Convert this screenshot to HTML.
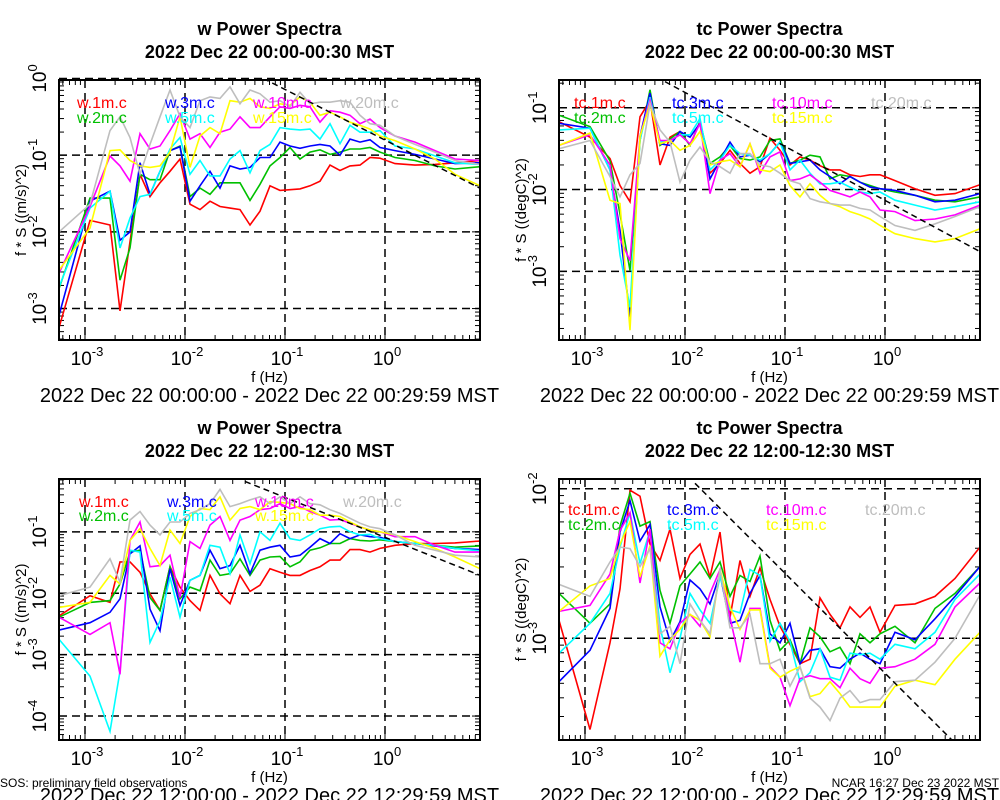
<!DOCTYPE html>
<html><head><meta charset="utf-8"><style>
html,body{margin:0;padding:0;background:#fff;}
svg{display:block;font-family:"Liberation Sans",sans-serif;}
</style></head><body>
<svg id="chart" width="1000" height="800" viewBox="0 0 1000 800" xmlns="http://www.w3.org/2000/svg"></svg>
<script>
// shared frequency grid (log10 Hz)
const logFreq = [-3.26,-2.95,-2.75,-2.65,-2.55,-2.45,-2.35,-2.25,-2.15,-2.05,-1.95,-1.85,-1.75,-1.65,-1.55,-1.45,-1.35,-1.25,-1.15,-1.05,-0.95,-0.85,-0.75,-0.65,-0.55,-0.45,-0.35,-0.25,-0.15,-0.05,0.1,0.3,0.5,0.7,0.95];
const seriesColors = ["#ff0000","#00c000","#0000ff","#00ffff","#ff00ff","#ffff00","#bebebe"];
const legendOrderW = ["w.1m.c","w.2m.c","w.3m.c","w.5m.c","w.10m.c","w.15m.c","w.20m.c"];
const legendOrderTC = ["tc.1m.c","tc.2m.c","tc.3m.c","tc.5m.c","tc.10m.c","tc.15m.c","tc.20m.c"];
const xTickExps = [-3,-2,-1,0];

// Panel 1: w 00:00 (log10 values)
const w00_1m = [-3.25,-1.85,-1.91,-3.03,-2.13,-1.25,-1.54,-1.36,-1.21,-1.05,-1.64,-1.71,-1.60,-1.67,-1.69,-1.71,-1.91,-1.73,-1.40,-1.46,-1.45,-1.44,-1.40,-1.34,-1.13,-1.20,-1.14,-1.13,-1.03,-1.04,-1.11,-1.13,-1.12,-1.10,-1.07];
const w00_2m = [-2.74,-1.56,-1.56,-2.63,-2.21,-1.25,-1.32,-1.32,-0.94,-0.88,-1.54,-1.43,-1.51,-1.36,-1.36,-1.36,-1.59,-1.38,-1.14,-1.03,-0.90,-1.05,-0.96,-0.93,-0.99,-0.96,-0.92,-0.92,-0.90,-0.96,-1.03,-1.07,-1.14,-1.18,-1.15];
const w00_3m = [-3.09,-1.60,-1.47,-2.11,-2.00,-1.10,-1.51,-1.21,-0.94,-0.89,-1.60,-1.40,-1.21,-1.43,-1.14,-1.18,-1.16,-1.03,-1.03,-0.83,-0.88,-0.91,-0.88,-0.86,-0.88,-1.00,-0.79,-0.83,-0.80,-0.90,-0.94,-0.99,-1.05,-1.11,-1.10];
const w00_5m = [-2.72,-1.69,-1.47,-2.21,-1.82,-1.54,-1.51,-1.21,-0.92,-0.77,-1.25,-1.07,-1.27,-1.27,-1.05,-0.94,-1.23,-0.94,-0.86,-0.64,-0.66,-0.67,-0.66,-0.79,-0.59,-0.85,-0.61,-0.70,-0.70,-0.68,-0.88,-0.92,-1.01,-1.10,-1.12];
const w00_10m = [-2.54,-1.67,-1.01,-1.14,-1.34,-0.72,-0.92,-0.88,-0.68,-0.46,-0.79,-0.72,-0.90,-0.70,-0.66,-0.50,-0.64,-0.64,-0.50,-0.37,-0.39,-0.35,-0.37,-0.57,-0.42,-0.44,-0.48,-0.59,-0.53,-0.64,-0.75,-0.83,-0.94,-1.05,-1.07];
const w00_15m = [-2.50,-1.95,-0.94,-0.93,-1.07,-1.14,-1.16,-1.14,-0.96,-0.50,-1.16,-0.75,-0.64,-0.72,-0.29,-0.31,-0.26,-0.37,-0.39,-0.33,-0.35,-0.24,-0.31,-0.48,-0.44,-0.50,-0.57,-0.61,-0.66,-0.75,-0.81,-0.92,-1.05,-1.25,-1.40];
const w00_20m = [-2.00,-1.64,-0.68,-0.50,-0.77,-1.25,-0.86,-0.50,-0.15,-0.50,-0.64,-0.29,-0.24,-0.26,-0.11,-0.33,-0.15,-0.20,-0.31,-0.29,-0.37,-0.18,-0.33,-0.31,-0.31,-0.29,-0.31,-0.48,-0.59,-0.61,-0.75,-0.86,-0.96,-1.07,-1.12];

// Panel 2: tc 00:00
const tc00_1m = [-1.17,-1.36,-1.62,-1.95,-2.15,-1.11,-0.91,-1.70,-1.36,-1.29,-1.46,-1.17,-1.80,-1.68,-1.52,-1.68,-1.80,-1.72,-1.37,-1.52,-1.70,-1.60,-1.64,-1.71,-1.76,-1.76,-1.82,-1.84,-1.82,-1.82,-1.89,-1.99,-2.07,-2.05,-1.94];
const tc00_2m = [-1.09,-1.23,-1.65,-2.30,-2.99,-1.40,-0.78,-1.46,-1.38,-1.29,-1.46,-1.17,-1.68,-1.60,-1.46,-1.62,-1.64,-1.60,-1.40,-1.38,-1.68,-1.64,-1.58,-1.60,-1.87,-1.82,-1.84,-1.91,-1.95,-1.99,-2.03,-2.07,-2.13,-2.15,-2.09];
const tc00_3m = [-1.19,-1.25,-1.76,-2.50,-3.56,-1.35,-0.82,-1.44,-1.46,-1.29,-1.36,-1.19,-1.87,-1.64,-1.42,-1.60,-1.58,-1.66,-1.56,-1.42,-1.68,-1.66,-1.64,-1.76,-1.84,-1.93,-1.84,-1.91,-1.97,-1.99,-2.01,-2.07,-2.15,-2.13,-2.05];
const tc00_5m = [-1.27,-1.25,-1.76,-2.80,-3.44,-1.40,-0.87,-1.42,-1.40,-1.33,-1.33,-1.13,-1.76,-1.64,-1.46,-1.56,-1.58,-1.64,-1.56,-1.42,-1.76,-1.64,-1.80,-1.93,-1.93,-1.91,-1.97,-2.03,-2.05,-2.03,-2.13,-2.19,-2.25,-2.21,-2.15];
const tc00_10m = [-1.46,-1.33,-1.70,-2.60,-2.87,-1.35,-0.91,-1.40,-1.40,-1.33,-1.44,-1.19,-2.05,-1.64,-1.56,-1.72,-1.44,-1.80,-1.60,-1.54,-1.89,-1.87,-1.82,-1.91,-2.01,-2.05,-2.09,-2.03,-2.09,-2.25,-2.27,-2.38,-2.36,-2.31,-2.19];
const tc00_15m = [-1.46,-1.31,-2.13,-2.17,-3.72,-1.35,-0.95,-1.44,-1.40,-1.52,-1.46,-1.29,-1.70,-1.66,-1.64,-1.72,-1.44,-1.76,-1.78,-1.70,-1.95,-2.09,-1.93,-2.07,-2.17,-2.21,-2.27,-2.31,-2.36,-2.44,-2.54,-2.60,-2.64,-2.60,-2.48];
const tc00_20m = [-1.50,-1.40,-1.84,-2.09,-1.82,-1.68,-0.95,-1.27,-1.42,-1.91,-1.64,-1.48,-1.66,-1.72,-1.80,-1.56,-1.56,-1.70,-1.72,-1.80,-1.89,-1.93,-2.11,-2.15,-2.17,-2.19,-2.19,-2.23,-2.25,-2.33,-2.44,-2.50,-2.42,-2.33,-2.21];

// Panel 3: w 12:00
const w12_1m = [-2.37,-2.04,-2.15,-1.49,-1.49,-1.66,-2.01,-2.28,-1.57,-1.90,-2.12,-2.28,-1.71,-2.01,-2.17,-1.71,-1.97,-1.87,-1.60,-1.66,-1.71,-1.71,-1.63,-1.57,-1.46,-1.46,-1.29,-1.29,-1.33,-1.27,-1.22,-1.19,-1.19,-1.18,-1.15];
const w12_2m = [-2.39,-2.15,-2.12,-1.85,-1.33,-1.30,-2.07,-2.28,-1.57,-2.09,-1.90,-1.96,-1.46,-1.71,-1.68,-1.44,-1.71,-1.46,-1.41,-1.40,-1.57,-1.49,-1.30,-1.26,-1.19,-1.19,-1.11,-1.14,-1.15,-1.13,-1.16,-1.19,-1.22,-1.25,-1.23];
const w12_3m = [-2.60,-2.48,-2.31,-2.09,-1.36,-1.23,-2.26,-2.61,-1.60,-2.20,-1.79,-1.71,-1.30,-1.60,-1.55,-1.22,-1.68,-1.30,-1.25,-1.22,-1.41,-1.38,-1.25,-1.11,-1.19,-1.03,-1.11,-1.05,-1.08,-1.09,-1.16,-1.19,-1.23,-1.27,-1.29];
const w12_5m = [-2.75,-3.35,-4.25,-3.27,-1.30,-1.33,-2.80,-2.45,-1.74,-2.39,-1.79,-1.71,-1.22,-1.25,-1.68,-1.05,-1.52,-1.00,-1.14,-0.86,-1.11,-1.14,-1.05,-0.95,-0.92,-0.91,-1.00,-1.05,-1.04,-1.11,-1.16,-1.19,-1.22,-1.27,-1.31];
const w12_10m = [-2.39,-2.67,-2.48,-3.32,-1.14,-0.84,-1.57,-1.55,-1.38,-2.07,-1.16,-1.27,-0.89,-0.75,-1.14,-0.81,-0.75,-0.64,-0.62,-0.54,-0.62,-0.59,-0.67,-0.73,-0.81,-0.80,-0.86,-0.92,-0.97,-1.00,-1.08,-1.08,-1.22,-1.33,-1.33];
const w12_15m = [-2.23,-2.15,-1.71,-1.85,-1.14,-0.95,-1.27,-1.55,-0.97,-1.19,-0.75,-0.62,-0.64,-0.43,-0.81,-0.62,-0.59,-0.64,-0.51,-0.52,-0.54,-0.62,-0.64,-0.73,-0.73,-0.75,-0.84,-0.92,-0.97,-1.00,-1.05,-1.16,-1.27,-1.41,-1.60];
const w12_20m = [-2.04,-1.90,-1.44,-1.82,-0.81,-0.67,-0.89,-1.05,-0.84,-0.84,-0.70,-0.64,-0.54,-0.31,-0.59,-0.54,-0.48,-0.43,-0.54,-0.43,-0.54,-0.43,-0.54,-0.56,-0.64,-0.70,-0.78,-0.86,-0.92,-0.95,-1.05,-1.22,-1.30,-1.38,-1.41];

// Panel 4: tc 12:00
const tc12_1m = [-2.88,-3.61,-3.03,-2.67,-2.01,-2.05,-2.37,-2.48,-2.27,-2.60,-2.44,-2.37,-2.59,-2.29,-2.86,-2.48,-2.72,-2.53,-2.74,-2.92,-3.04,-3.17,-3.14,-2.73,-2.84,-2.93,-2.79,-2.86,-2.79,-2.96,-2.78,-2.77,-2.72,-2.60,-2.39];
const tc12_2m = [-2.70,-2.90,-2.77,-2.25,-2.03,-2.25,-2.22,-2.68,-2.90,-2.65,-2.57,-2.49,-2.60,-2.49,-2.72,-2.58,-2.62,-2.45,-2.88,-3.08,-3.01,-3.17,-2.93,-2.99,-3.09,-3.06,-3.17,-2.97,-3.03,-2.97,-2.92,-3.03,-2.80,-2.70,-2.52];
const tc12_3m = [-3.29,-3.08,-2.80,-2.29,-2.08,-2.35,-2.24,-2.79,-3.02,-2.89,-2.61,-2.67,-2.77,-2.57,-2.90,-2.88,-2.70,-2.58,-2.97,-3.03,-2.90,-3.17,-3.08,-3.07,-3.19,-3.20,-3.14,-3.10,-3.14,-3.17,-2.96,-3.01,-2.87,-2.72,-2.52];
const tc12_5m = [-3.10,-2.90,-2.70,-2.39,-2.16,-2.50,-2.28,-2.92,-3.23,-3.00,-2.70,-2.81,-2.90,-2.59,-2.81,-2.83,-2.54,-2.58,-3.02,-2.90,-3.02,-3.29,-3.23,-3.07,-3.26,-3.28,-3.10,-3.11,-3.10,-3.14,-3.04,-3.07,-2.96,-2.74,-2.57];
const tc12_10m = [-2.82,-2.78,-2.57,-2.28,-2.16,-2.63,-2.27,-3.03,-3.07,-2.90,-2.84,-2.92,-2.70,-2.54,-2.86,-3.16,-2.80,-2.80,-3.19,-3.26,-3.45,-3.27,-3.25,-3.27,-3.27,-3.33,-3.20,-3.27,-3.30,-3.20,-3.19,-3.14,-3.04,-2.79,-2.63];
const tc12_15m = [-2.82,-2.65,-2.60,-2.37,-2.22,-2.59,-2.38,-3.12,-3.01,-2.94,-2.84,-2.88,-2.99,-2.54,-2.79,-2.94,-2.81,-2.81,-3.20,-3.26,-3.22,-3.19,-3.39,-3.37,-3.29,-3.37,-3.46,-3.46,-3.46,-3.46,-3.32,-3.28,-3.31,-3.14,-2.96];
const tc12_20m = [-2.64,-2.72,-2.49,-2.39,-2.40,-2.52,-2.40,-2.97,-2.92,-3.17,-2.77,-2.88,-2.97,-2.54,-2.93,-2.93,-2.84,-3.17,-3.17,-3.14,-3.32,-3.19,-3.40,-3.46,-3.55,-3.40,-3.35,-3.43,-3.41,-3.41,-3.29,-3.28,-3.16,-3.00,-2.71];

const NS="http://www.w3.org/2000/svg";
const svg=document.getElementById('chart');
function mk(tag,attrs,parent){const e=document.createElementNS(NS,tag);for(const k in attrs)e.setAttribute(k,attrs[k]);(parent||svg).appendChild(e);return e;}

const panels=[
 {id:'w-0000',l:59,r:480,t:80,b:340,yTop:-0.02,yBot:-3.41,yExps:[0,-1,-2,-3],ylabel:'f * S ((m/s)^2)',
  title1:'w Power Spectra',title2:'2022 Dec 22 00:00-00:30 MST',date:'2022 Dec 22 00:00:00 - 2022 Dec 22 00:29:59 MST',
  series:[w00_1m,w00_2m,w00_3m,w00_5m,w00_10m,w00_15m,w00_20m],names:legendOrderW,legX:[77,165,253,340],legY:[108,123],
  refA:-1.217,refB:0,refS:-0.66},
 {id:'tc-0000',l:559,r:980,t:80,b:340,yTop:-0.66,yBot:-3.84,yExps:[-1,-2,-3],ylabel:'f * S ((degC)^2)',
  title1:'tc Power Spectra',title2:'2022 Dec 22 00:00-00:30 MST',date:'2022 Dec 22 00:00:00 - 2022 Dec 22 00:29:59 MST',
  series:[tc00_1m,tc00_2m,tc00_3m,tc00_5m,tc00_10m,tc00_15m,tc00_20m],names:legendOrderTC,legX:[574,672,772,871],legY:[108,123],
  refA:-2.2,refB:-0.68,refS:-0.66},
 {id:'w-1200',l:59,r:480,t:479,b:740,yTop:-0.14,yBot:-4.39,yExps:[-1,-2,-3,-4],ylabel:'f * S ((m/s)^2)',
  title1:'w Power Spectra',title2:'2022 Dec 22 12:00-12:30 MST',date:'2022 Dec 22 12:00:00 - 2022 Dec 22 12:29:59 MST',
  series:[w12_1m,w12_2m,w12_3m,w12_5m,w12_10m,w12_15m,w12_20m],names:legendOrderW,legX:[79,167,255,343],legY:[507,521],
  refA:-1.4,refB:-0.18,refS:-0.65},
 {id:'tc-1200',l:559,r:980,t:479,b:740,yTop:-1.935,yBot:-3.68,yExps:[-2,-3],ylabel:'f * S ((degC)^2)',
  title1:'tc Power Spectra',title2:'2022 Dec 22 12:00-12:30 MST',date:'2022 Dec 22 12:00:00 - 2022 Dec 22 12:29:59 MST',
  series:[tc12_1m,tc12_2m,tc12_3m,tc12_5m,tc12_10m,tc12_15m,tc12_20m],names:legendOrderTC,legX:[568,667,766,865],legY:[515,530],
  refA:-1.9,refB:-1.964,refS:-0.668}
];
const xMin=-3.26,xMax=0.95;

panels.forEach(p=>{
 const g=mk('g',{});
 
 
 const X=v=>p.l+(v-xMin)/(xMax-xMin)*(p.r-p.l);
 const Y=v=>p.t+(p.yTop-v)/(p.yTop-p.yBot)*(p.b-p.t);
 const cx=(p.l+p.r)/2;
 let t=mk('text',{x:cx,y:p.t-45,'text-anchor':'middle','font-size':18,'font-weight':'bold'},g);t.textContent=p.title1;
 
 t=mk('text',{x:cx,y:p.t-22,'text-anchor':'middle','font-size':18,'font-weight':'bold'},g);t.textContent=p.title2;
 
 const cp=mk('clipPath',{id:'clip-'+p.id},g);mk('rect',{x:p.l,y:p.t,width:p.r-p.l,height:p.b-p.t},cp);
 xTickExps.forEach(e=>{const x=X(e);const ln=mk('line',{x1:x,x2:x,y1:p.t,y2:p.b,stroke:'#000','stroke-width':1.5,'stroke-dasharray':'8,5'},g);
  
  const tx=mk('text',{x:x+2,y:p.t+(p.b-p.t)+25,'text-anchor':'middle','font-size':19},g);tx.textContent='10';
  const ts=mk('tspan',{dy:-9,'font-size':13},tx);ts.textContent=String(e);
  });
 p.yExps.forEach(e=>{const y=Y(e);const ln=mk('line',{x1:p.l,x2:p.r,y1:y,y2:y,stroke:'#000','stroke-width':1.5,'stroke-dasharray':'8,5'},g);
  
  const tx=mk('text',{x:0,y:0,'text-anchor':'middle','font-size':19,transform:`translate(${p.l-13},${y}) rotate(-90)`},g);tx.textContent='10';
  const ts=mk('tspan',{dy:-9,'font-size':13},tx);ts.textContent=String(e);
  });
 for(let d=Math.floor(p.yBot);d<=Math.ceil(p.yTop);d++){for(let m=1;m<=9;m++){const v=d+Math.log10(m);if(v<p.yBot||v>p.yTop)continue;const y=Y(v);const L=m===1?8:5;
  mk('line',{x1:p.l,x2:p.l+L,y1:y,y2:y,stroke:'#000','stroke-width':1},g);mk('line',{x1:p.r-L,x2:p.r,y1:y,y2:y,stroke:'#000','stroke-width':1},g);}}
 for(let d=-4;d<=1;d++){for(let m=1;m<=9;m++){const v=d+Math.log10(m);if(v<xMin||v>xMax)continue;const x=X(v);const L=m===1?8:5;
  mk('line',{x1:x,x2:x,y1:p.b-L,y2:p.b,stroke:'#000','stroke-width':1},g);mk('line',{x1:x,x2:x,y1:p.t,y2:p.t+L,stroke:'#000','stroke-width':1},g);}}
 const sg=mk('g',{'clip-path':`url(#clip-${p.id})`},g);
 p.series.forEach((s,i)=>{const pts=s.map((v,k)=>X(logFreq[k]).toFixed(1)+','+Y(v).toFixed(1)).join(' ');
  const pl=mk('polyline',{points:pts,fill:'none',stroke:seriesColors[i],'stroke-width':1.6,'stroke-linejoin':'miter'},sg);
  });
 const f1=p.refA,f2=xMax;const rl=mk('line',{x1:X(f1),y1:Y(p.refB),x2:X(f2),y2:Y(p.refB+p.refS*(f2-f1)),stroke:'#000','stroke-width':1.5,'stroke-dasharray':'6,4'},sg);
 
 p.names.forEach((n,i)=>{const col=Math.floor(i/2),row=i%2;const tx=mk('text',{x:p.legX[col],y:p.legY[row],'font-size':16,fill:seriesColors[i]},g);tx.textContent=n;
  });
 const fr=mk('rect',{x:p.l,y:p.t,width:p.r-p.l,height:p.b-p.t,fill:'none',stroke:'#000','stroke-width':2},g);
 
 let at=mk('text',{x:cx,y:p.b+42,'text-anchor':'middle','font-size':15},g);at.textContent='f (Hz)';
 
 at=mk('text',{x:0,y:0,'text-anchor':'middle','font-size':15,transform:`translate(${p.l-33},${(p.t+p.b)/2}) rotate(-90)`},g);at.textContent=p.ylabel;
 
 at=mk('text',{x:cx,y:p.b+62,'text-anchor':'middle','font-size':20},g);at.textContent=p.date;
 
});
let ft=mk('text',{x:0,y:787,'font-size':12},svg);ft.textContent='SOS: preliminary field observations';

ft=mk('text',{x:999,y:787,'font-size':12,'text-anchor':'end'},svg);ft.textContent='NCAR 16:27 Dec 23 2022 MST';

</script>
</body></html>
